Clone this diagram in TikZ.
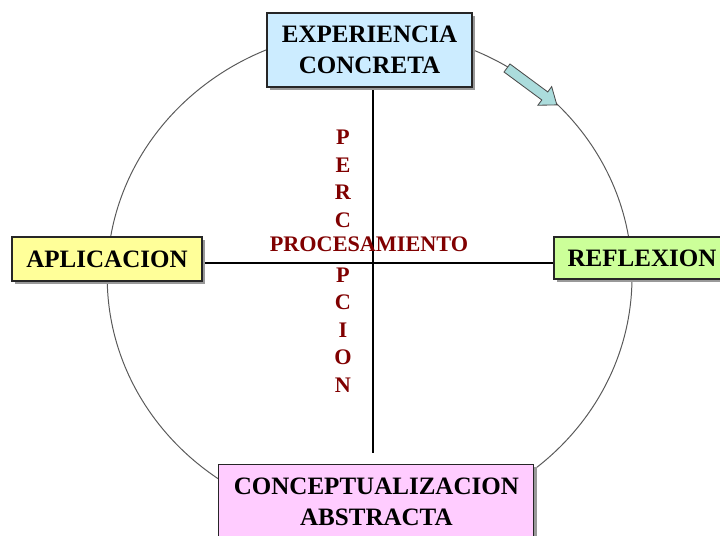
\documentclass[tikz,border=0pt]{standalone}
\usepackage{fontspec}
\setmainfont{Liberation Serif}
\usetikzlibrary{shadows}
\definecolor{expblue}{HTML}{CCECFF}
\definecolor{aplyellow}{HTML}{FFFF99}
\definecolor{refgreen}{HTML}{CCFF99}
\definecolor{conpink}{HTML}{FFCCFF}
\definecolor{arrowteal}{HTML}{ABDCDC}
\definecolor{procred}{HTML}{800000}

\begin{document}
\begin{tikzpicture}[
            box/.style={draw=black!85, line width=0.8pt, align=center,
              font=\bfseries\fontsize{17.8}{22}\selectfont, inner sep=0pt,
              drop shadow={shadow xshift=0.07cm, shadow yshift=-0.07cm, fill=black!40, opacity=1}},
            lettr/.style={text=procred, font=\bfseries\fontsize{15.8}{18}\selectfont, inner sep=0pt},
            axis/.style={black, line width=0.8pt}
        ]
            \useasboundingbox (0, 0) rectangle (18, 13.4);
            \draw[black!65, line width=0.7pt] (9.24, 6.475) ellipse [x radius=6.56, y radius=6.175];
            \coordinate (5) at (5.05, 6.825);
            \coordinate (6) at (13.85, 6.825);
            \coordinate (7) at (9.325, 11.15);
            \coordinate (8) at (9.325, 2.075);
            \draw[axis] (5) to (6);
            \draw[axis] (7) to (8);
            \node[box, fill=expblue, minimum width=5.125cm, minimum height=1.85cm] (1) at (9.2375, 12.15) {EXPERIENCIA\\CONCRETA};
            \node[box, fill=aplyellow, minimum width=4.75cm, minimum height=1.1cm] (2) at (2.675, 6.925) {APLICACION};
            \node[box, fill=refgreen, minimum width=4.4cm, minimum height=1.05cm] (3) at (16.05, 6.95) {REFLEXION};
            \node[box, fill=conpink, minimum width=7.875cm, minimum height=1.85cm] (4) at (9.41, 0.86) {CONCEPTUALIZACION\\ABSTRACTA};
            \node[lettr, anchor=base] (9) at (9.225, 7.1) {PROCESAMIENTO};
            % the E at row 5 is the one of PROCESAMIENTO
            \foreach \l/\i in {P/1,E/2,R/3,C/4,P/6,C/7,I/8,O/9,N/10}
                \node[lettr, anchor=base] (l\i) at (8.575, 9.7875-0.689*\i+0.689) {\l};
            % arrow on the circle
            \begin{scope}[shift={(12.675, 11.7)}, rotate=-36.5]
                \draw[black!70, fill=arrowteal, line width=0.6pt] (0, 0.125) -- (1.175, 0.125) -- (1.175, 0.29) -- (1.55, 0) -- (1.175, -0.29) -- (1.175, -0.125) -- (0, -0.125) -- cycle;
            \end{scope}
        \end{tikzpicture}
\end{document}
